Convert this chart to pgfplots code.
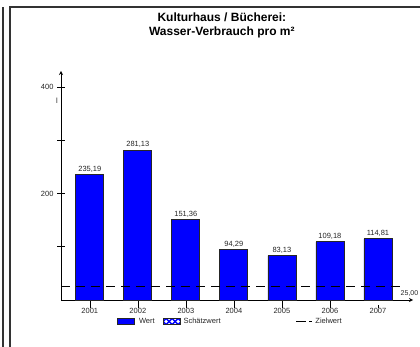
\documentclass[border=0pt]{standalone}
\usepackage{pgfplots}
\pgfplotsset{compat=1.18}
\usepackage{fontspec}
\setmainfont{Liberation Sans}
\begin{document}
\begin{tikzpicture}[x=1pt,y=1pt]
\useasboundingbox (0,0) rectangle (420,347);
\clip (0,0) rectangle (420,347);
\draw[line width=1.2pt, black!80] (3,-5) -- (3,340);
\draw[line width=1.2pt, black!80] (10,-5) -- (10,340) -- (430,340);
\begin{axis}[
  at={(61pt,47pt)}, anchor=south west,
  scale only axis, width=352pt, height=229pt,
  xmin=2000.4, xmax=2007.73, ymin=0, ymax=430,
  axis x line=bottom, axis y line=left,
  axis line style={black, line width=0.8pt},
  major tick length=8pt,
  xtick={2001,2002,2003,2004,2005,2006,2007},
  xticklabels={2001,2002,2003,2004,2005,2006,2007},
  x tick style={black, line width=0.6pt, shorten >=5pt},
  ytick={100,200,300,400}, yticklabels={,200,,400},
  y tick style={black, line width=0.6pt},
  ytick align=center, xtick align=outside,
  tick label style={font=\fontsize{7.5}{9}\selectfont, text=black!85},
  /pgf/number format/assume math mode=true,
  xticklabel shift=-3pt,
  title={Kulturhaus / Bücherei:\\Wasser-Verbrauch pro m²},
  title style={align=center, font=\bfseries\fontsize{12}{13.5}\selectfont,
    at={(rel axis cs:0.457,1.173)}, anchor=center},
  legend columns=3,
  legend style={at={(rel axis cs:0.159,-0.094)}, anchor=west, draw=none,
    fill=none, inner sep=0pt, font=\fontsize{7.5}{9}\selectfont,
    nodes={inner sep=1pt, text=black!85},
    /tikz/column 1/.style={column sep=3pt},
    /tikz/column 2/.style={column sep=7pt},
    /tikz/column 3/.style={column sep=2pt},
    /tikz/column 4/.style={column sep=74pt},
    /tikz/column 5/.style={column sep=2pt}},
  clip=false,
]
\addplot[ybar, bar width=28pt, fill=blue, draw=black!85, line width=0.8pt,
  area legend,
  nodes near coords={\pgfmathprintnumber[fixed,fixed zerofill,precision=2,use comma]{\pgfplotspointmeta}},
  nodes near coords style={font=\fontsize{7.5}{9}\selectfont, text=black!85, inner sep=2pt}]
  coordinates {(2001,235.19) (2002,281.13) (2003,151.36) (2004,94.29) (2005,83.13) (2006,109.18) (2007,114.81)};
\addlegendentry{Wert}
\addlegendimage{legend image code/.code={
  \fill[white] (0pt,-3pt) rectangle (17pt,3pt);
  \begin{scope}
  \clip (0pt,-3pt) rectangle (17pt,3pt);
  \draw[blue, line width=1.3pt] (-3pt,-3pt) -- (3pt,3pt) -- (9pt,-3pt) -- (15pt,3pt) -- (21pt,-3pt);
  \draw[blue, line width=1.3pt] (-3pt,3pt) -- (3pt,-3pt) -- (9pt,3pt) -- (15pt,-3pt) -- (21pt,3pt);
  \end{scope}
  \draw[black!85, line width=0.8pt] (0pt,-3pt) rectangle (17pt,3pt);
}}
\addlegendentry{Schätzwert}
\addlegendimage{legend image code/.code={
  \draw[black, line width=0.8pt] (0pt,0pt) -- (10pt,0pt);
  \draw[black, line width=0.8pt] (13pt,0pt) -- (16pt,0pt);
}}
\addlegendentry{Zielwert}
\addplot[black, line width=0.8pt, dash pattern=on 9pt off 6pt, forget plot]
  coordinates {(2000.4,25) (2007.57,25)};
\node[anchor=west, font=\fontsize{7}{9}\selectfont, text=black!85, inner sep=0pt] at (axis cs:2007.47,13) {25,00};
\node[font=\fontsize{7.5}{9}\selectfont, text=black!85, inner sep=0pt] at (axis cs:2000.317,374) {l};
\end{axis}
\end{tikzpicture}
\end{document}
